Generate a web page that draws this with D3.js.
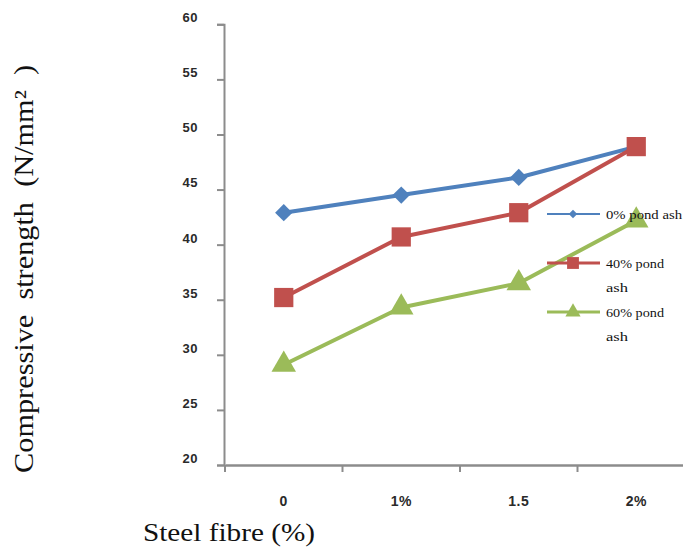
<!DOCTYPE html>
<html>
<head>
<meta charset="utf-8">
<script src="https://cdn.jsdelivr.net/npm/d3@7"></script>
<style>
  html, body { margin: 0; padding: 0; background: #fff; }
  svg { display: block; }
</style>
</head>
<body>
<svg id="chart" width="683" height="549"></svg>
<script>
// Steel fibre content categories
const categories = ["0", "1%", "1.5", "2%"];
// Compressive strength (N/mm²) per pond ash replacement level
const ash0 = [42.9, 44.5, 46.1, 48.9];
const ash40 = [35.2, 40.7, 42.9, 48.9];
const ash60 = [29.1, 34.3, 36.5, 42.2];
const yTicks = [20, 25, 30, 35, 40, 45, 50, 55, 60];

const serif = "'Liberation Serif', 'Times New Roman', serif";
const sans = "'Liberation Sans', Arial, sans-serif";

// diamonds are squares turned by 45 degrees
const series = [
  { name: ["0% pond ash"], widths: [76], values: ash0, color: "#4F81BD", symbol: d3.symbolSquare, rot: 45, size: 150, legSize: 36 },
  { name: ["40% pond", "ash"], widths: [58, 22], values: ash40, color: "#C0504D", symbol: d3.symbolSquare, rot: 0, size: 370, legSize: 140 },
  { name: ["60% pond", "ash"], widths: [58, 22], values: ash60, color: "#9BBB59", symbol: d3.symbolTriangle, rot: 0, size: 260, legSize: 100 }
];

const svg = d3.select("#chart");
const axisColor = "#8c8c8c";

const x = d3.scaleBand().domain(categories).range([225, 695]);
const y = d3.scaleLinear().domain([20, 60]).range([465, 24.3]);

// y axis
const yAxis = svg.append("g").attr("transform", "translate(224,0)")
  .call(d3.axisLeft(y).tickValues(yTicks).tickSize(7).tickPadding(19));
yAxis.select(".domain").attr("stroke", axisColor).attr("stroke-width", 2);
yAxis.selectAll(".tick line").attr("stroke", axisColor).attr("stroke-width", 2);
yAxis.selectAll(".tick text")
  .attr("dy", "-0.2em")
  .attr("font-family", sans)
  .attr("font-size", 13).attr("font-weight", "bold").attr("fill", "#2a2a2a")
  .style("letter-spacing", "0.5px");

// x axis
const xAxis = svg.append("g").attr("transform", "translate(0,465)")
  .call(d3.axisBottom(x).tickSize(0).tickPadding(31));
xAxis.select(".domain").attr("stroke", axisColor).attr("stroke-width", 2.5);
xAxis.selectAll(".tick text")
  .attr("font-family", sans)
  .attr("font-size", 14).attr("font-weight", "bold").attr("fill", "#2a2a2a")
  .style("letter-spacing", "0.5px");
// boundary ticks between categories
xAxis.selectAll(".bound").data(categories).enter().append("line")
  .attr("class", "bound")
  .attr("x1", d => x(d)).attr("x2", d => x(d))
  .attr("y1", 0).attr("y2", 7)
  .attr("stroke", axisColor).attr("stroke-width", 2);

// series lines and markers
const line = d3.line().x((d, i) => x(categories[i]) + x.bandwidth() / 2).y(d => y(d));
series.forEach(s => {
  svg.append("path").datum(s.values)
    .attr("d", line).attr("fill", "none")
    .attr("stroke", s.color).attr("stroke-width", 4).attr("stroke-linejoin", "round");
});
series.forEach(s => {
  svg.append("g").selectAll("path").data(s.values).enter().append("path")
    .attr("transform", (d, i) => `translate(${x(categories[i]) + x.bandwidth() / 2},${y(d)}) rotate(${s.rot})`)
    .attr("d", d3.symbol().type(s.symbol).size(s.size))
    .attr("fill", s.color);
});

// legend
const legY = [214, 263, 312];
series.forEach((s, k) => {
  const g = svg.append("g").attr("transform", `translate(547,${legY[k]})`);
  g.append("line").attr("x1", 0).attr("x2", 53).attr("y1", 0).attr("y2", 0)
    .attr("stroke", s.color).attr("stroke-width", k === 0 ? 2 : 3);
  g.append("path").attr("transform", `translate(26,0) rotate(${s.rot})`)
    .attr("d", d3.symbol().type(s.symbol).size(s.legSize)).attr("fill", s.color);
  s.name.forEach((t, j) => {
    g.append("text").attr("x", 59).attr("y", 5 + j * 24)
      .attr("font-family", serif)
      .attr("font-size", 13).attr("fill", "#111")
      .attr("textLength", s.widths[j]).attr("lengthAdjust", "spacingAndGlyphs")
      .text(t);
  });
});

// axis titles
svg.append("text")
  .attr("transform", "translate(33,269) rotate(-90)")
  .attr("text-anchor", "middle")
  .attr("font-family", serif)
  .attr("font-size", 27).attr("fill", "#111")
  .style("white-space", "pre")
  .attr("textLength", 408).attr("lengthAdjust", "spacingAndGlyphs")
  .text("Compressive  strength  (N/mm²  )");

svg.append("text")
  .attr("x", 143).attr("y", 541)
  .attr("font-family", serif)
  .attr("font-size", 26).attr("fill", "#111")
  .attr("textLength", 172).attr("lengthAdjust", "spacingAndGlyphs")
  .text("Steel fibre (%)");
</script>
</body>
</html>
